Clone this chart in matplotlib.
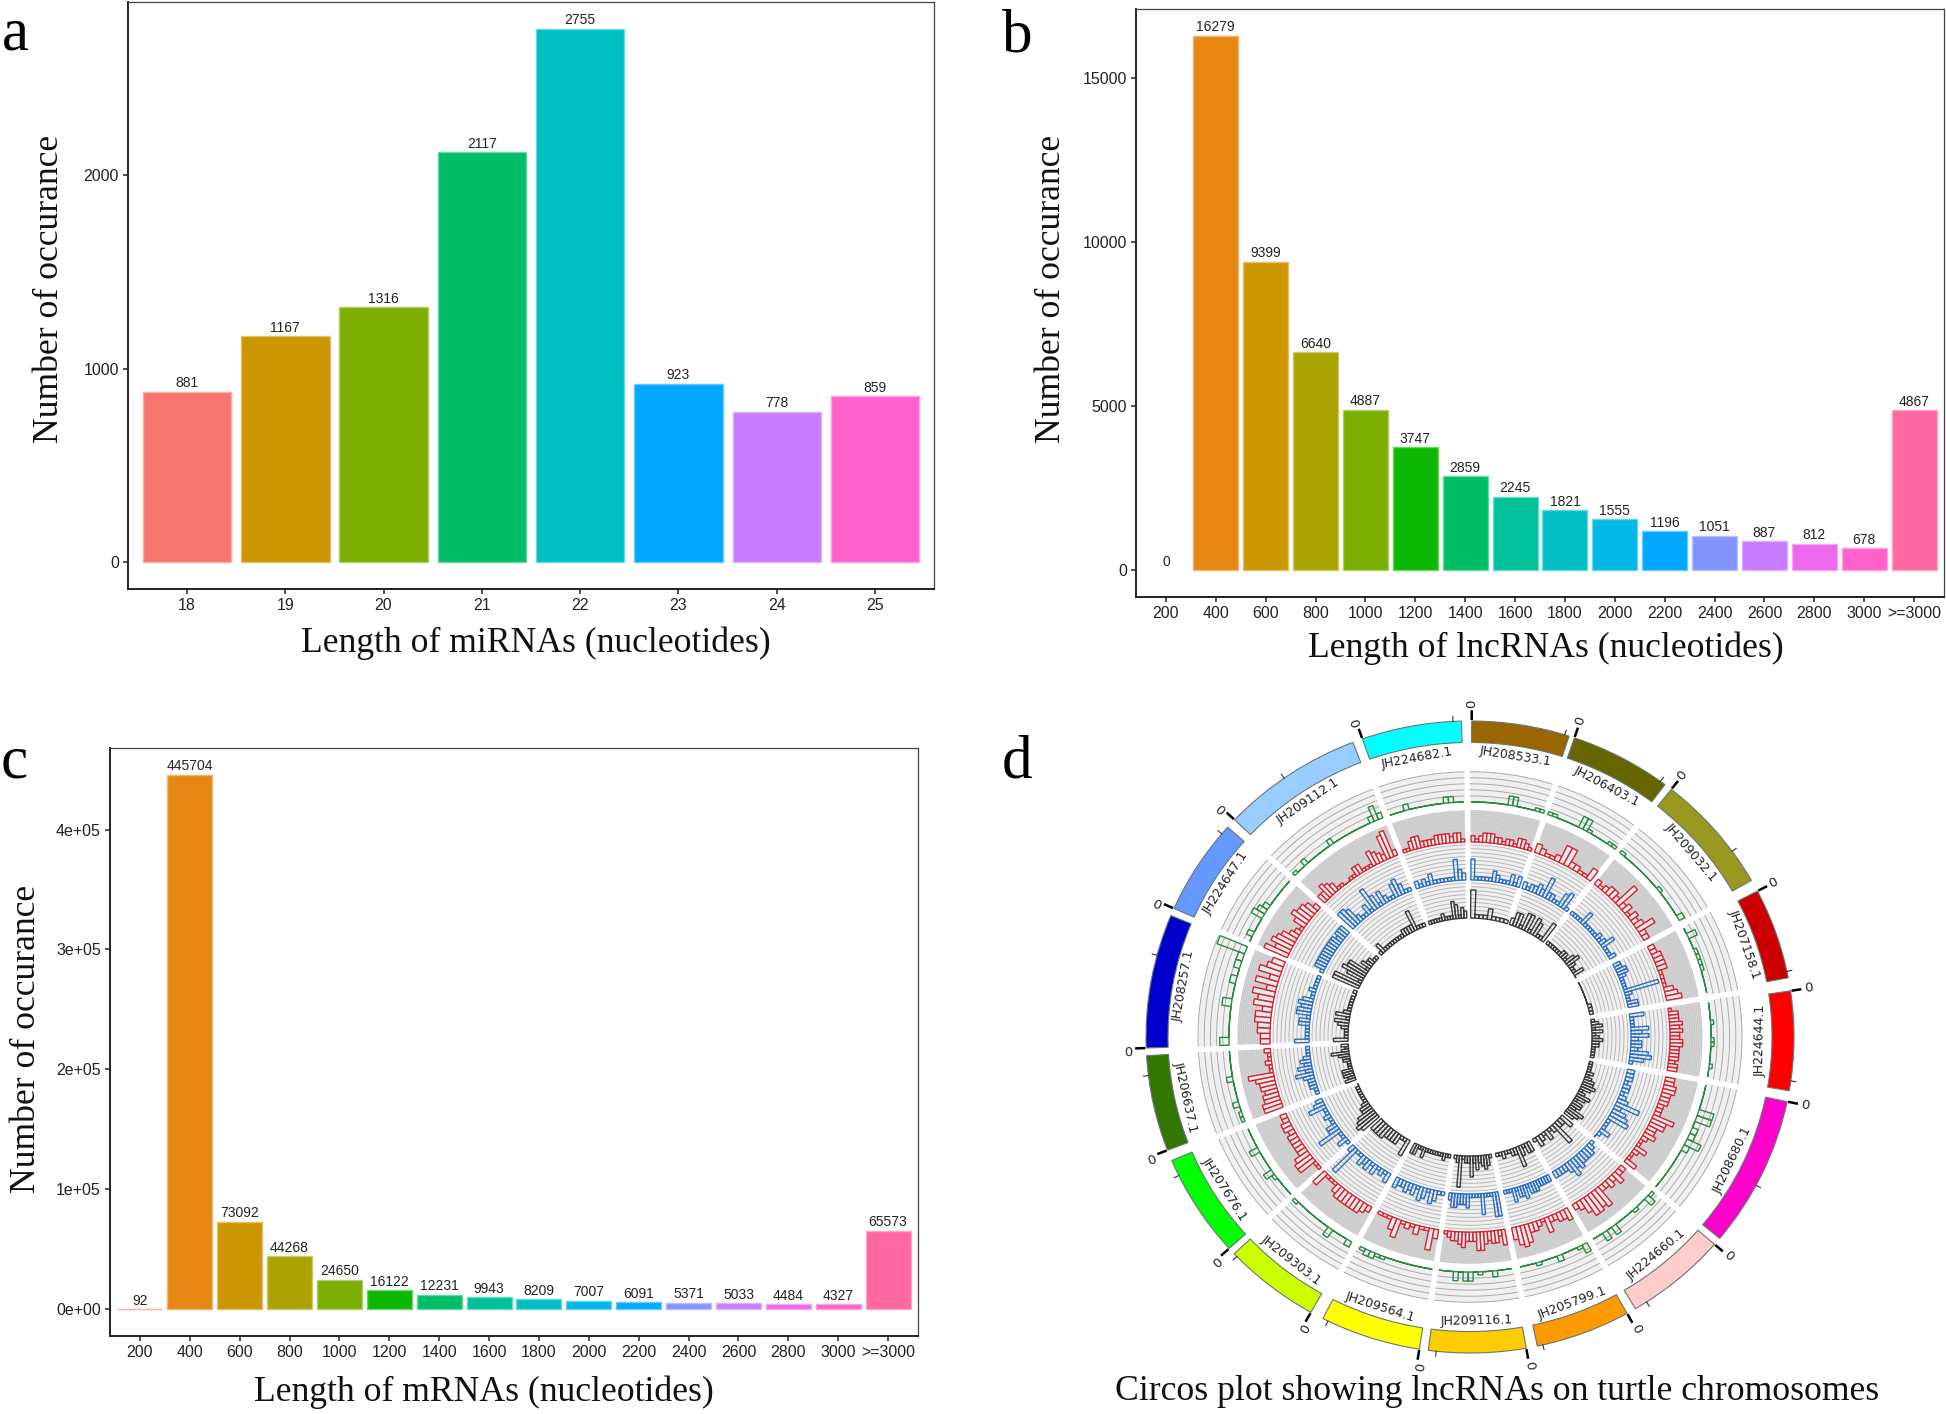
# -*- coding: utf-8 -*-
"""Length distributions of miRNA / lncRNA / mRNA plus circos panel."""
import numpy as np
import matplotlib
matplotlib.use("Agg")
import matplotlib.pyplot as plt
from matplotlib.colors import to_rgb

W, H = 1946, 1414

# ---- bar panels ----
MIRNA_CATS = ["18", "19", "20", "21", "22", "23", "24", "25"]
MIRNA_VALS = [881, 1167, 1316, 2117, 2755, 923, 778, 859]
MIRNA_COLS = ["#F8766D", "#CD9600", "#7CAE00", "#00BE67", "#00BFC4", "#00A9FF", "#C77CFF", "#FF61CC"]

LEN_CATS = ["200", "400", "600", "800", "1000", "1200", "1400", "1600", "1800", "2000",
            "2200", "2400", "2600", "2800", "3000", ">=3000"]
LNC_VALS = [0, 16279, 9399, 6640, 4887, 3747, 2859, 2245, 1821, 1555, 1196, 1051, 887, 812, 678, 4867]
MRNA_VALS = [92, 445704, 73092, 44268, 24650, 16122, 12231, 9943, 8209, 7007, 6091, 5371, 5033,
             4484, 4327, 65573]
LEN_COLS = ["#F8766D", "#E68613", "#CD9600", "#ABA300", "#7CAE00", "#0CB702", "#00BE67", "#00C19A",
            "#00BFC4", "#00B8E7", "#00A9FF", "#8494FF", "#C77CFF", "#ED68ED", "#FF61CC", "#FF68A1"]

MIRNA_TICKS = [0, 1000, 2000]
MIRNA_TICKLABELS = ["0", "1000", "2000"]
LNC_TICKS = [0, 5000, 10000, 15000]
LNC_TICKLABELS = ["0", "5000", "10000", "15000"]
MRNA_TICKS = [0, 100000, 200000, 300000, 400000]
MRNA_TICKLABELS = ["0e+00", "1e+05", "2e+05", "3e+05", "4e+05"]

# ---- circos panel, clockwise from the top; angles in degrees ----
SECTORS = ["JH208533.1", "JH206403.1", "JH209032.1", "JH207158.1", "JH224644.1", "JH208680.1",
           "JH224660.1", "JH205799.1", "JH209116.1", "JH209564.1", "JH209303.1", "JH207676.1",
           "JH206637.1", "JH208257.1", "JH224647.1", "JH209112.1", "JH224682.1"]
SECTOR_COLS = ["#996600", "#666600", "#999922", "#CC0000", "#FF0000", "#FF00CC", "#FFCCCC", "#FF9900",
               "#FFCC00", "#FFFF00", "#CCFF00", "#00FF00", "#337700", "#0000CC", "#6699FF", "#99CCFF",
               "#00FFFF"]
SECTOR_START = [0.3, 18.8, 38.4, 62.5, 81.6, 101.8, 131, 151, 170, 189, 209.4, 228, 249, 268, 294, 313.4, 340.6]
SECTOR_END = [17.8, 37, 60.3, 79.2, 99.8, 129.6, 149.3, 168, 187.4, 207, 226.7, 247, 266.6, 292.6, 311.6, 338.8, 358.5]
MINOR_TICKS = [17, 36, 54, 78, 98, 118, 147, 167, 186, 206, 226, 244, 263, 285, 310, 325, 357]

# histogram heights, 0-10 = share of the track height, one list per sector
RED = [[2, 1, 2, 3, 3, 3, 2, 2, 1, 2, 2, 1, 3, 3, 2, 1],
       [3, 2, 1, 1, 2, 6, 6, 2, 2, 1, 1, 4],
       [2, 1, 2, 3, 3, 2, 8, 2, 3, 1, 3, 2, 3, 6, 2, 2],
       [2, 2, 3, 3, 3, 3, 1, 1, 1, 1, 3, 4, 5],
       [1, 3, 3, 3, 4, 3, 4, 3, 3, 4, 4, 3, 3, 3, 3, 2, 3, 3],
       [3, 3, 4, 4, 3, 3, 3, 2, 2, 2, 7, 5, 5, 3, 3, 4, 2, 1, 1, 4, 2, 1, 1, 4],
       [2, 2, 4, 2, 3, 2, 2, 7, 6, 7, 7, 5, 3, 2],
       [4, 3, 3, 2, 2, 5, 1, 2, 3, 3, 6, 7, 6, 4],
       [5, 2, 4, 4, 3, 4, 6, 6, 3, 3, 3, 5, 4, 3, 3, 2, 1],
       [3, 7, 1, 1, 3, 1, 2, 1, 6, 4, 1, 1, 1],
       [2, 3, 4, 4, 4, 4, 4, 4, 3, 1, 1, 1, 5],
       [1, 1, 6, 6, 5, 3, 3, 3, 3, 3, 2, 3, 3, 2, 2],
       [6, 6, 5, 5, 4, 5, 5, 6, 8, 1, 1, 2, 1, 1, 2],
       [3, 3, 4, 4, 5, 5, 3, 6, 5, 7, 3, 7, 3, 7, 5, 4],
       [8, 5, 7, 6, 5, 3, 2, 1, 4, 6, 5, 5, 4, 2],
       [3, 3, 5, 4, 3, 1, 1, 0, 0, 1, 1, 3, 3, 1, 1, 1, 5, 4, 3, 2, 8, 9, 2],
       [1, 1, 3, 4, 4, 2, 2, 2, 2, 3, 3, 3, 3, 2, 3, 3, 1]]
BLUE = [[6, 1, 1, 1, 1, 1, 3, 2, 1, 1, 1, 3, 1, 3],
        [2, 1, 2, 2, 3, 2, 6, 2, 2, 1, 1, 4, 5, 1],
        [1, 1, 1, 1, 4, 1, 1, 1, 1, 1, 2, 1, 2, 4, 1, 1, 1, 2],
        [2, 2, 3, 3, 2, 1, 1, 1, 1, 10, 2, 1, 1, 3, 3],
        [4, 1, 1, 1, 5, 3, 5, 2, 3, 3, 2, 5, 6, 4, 1],
        [2, 2, 2, 1, 2, 2, 1, 2, 3, 7, 2, 4, 5, 6, 1, 1, 1, 3, 1, 0],
        [1, 2, 3, 3, 3, 3, 4, 3, 5, 3, 2, 2, 2, 2],
        [2, 2, 2, 2, 2, 3, 3, 3, 1, 4, 3, 3, 1, 4, 1, 1, 1],
        [7, 7, 1, 1, 1, 6, 1, 1, 1, 1, 4, 3, 3, 3, 4, 4, 2],
        [1, 1, 3, 4, 1, 3, 4, 1, 3, 2, 3, 2, 2, 3],
        [3, 1, 2, 1, 3, 1, 3, 2, 3, 1, 1, 9, 2],
        [1, 3, 1, 1, 7, 3, 3, 1, 1, 2, 1, 1, 5, 3, 2],
        [1, 1, 2, 2, 2, 3, 5, 2, 4, 2, 3, 2, 1, 1, 1],
        [4, 1, 1, 1, 1, 3, 3, 1, 4, 4, 3, 4, 3, 1, 1, 2, 1, 1, 1, 1],
        [1, 3, 3, 3, 3, 3, 3, 3, 3, 3, 3, 2, 3, 3, 3],
        [6, 6, 5, 2, 1, 1, 3, 1, 7, 4, 1, 4, 2, 1, 1, 4, 5, 3, 1, 1],
        [2, 1, 2, 1, 3, 1, 1, 1, 1, 1, 1, 6, 3, 2]]
BLACK = [[8, 1, 1, 1, 3, 1, 1, 1, 1],
         [2, 4, 4, 1, 5, 5, 1, 5, 4, 1, 1, 6],
         [1, 1, 1, 1, 1, 1, 2, 2, 1, 3, 4, 2, 1, 1, 3, 0],
         [0, 0, 0, 0, 0, 0, 0, 1, 1, 1],
         [1, 2, 3, 1, 3, 1, 2, 3, 2, 2, 1, 1, 1, 1],
         [1, 1, 1, 1, 2, 1, 2, 3, 3, 4, 3, 1, 2, 4, 3, 1, 3, 3, 2, 5, 4, 3],
         [4, 2, 2, 7, 2, 1, 3, 1, 2, 3, 1],
         [3, 3, 1, 3, 6, 2, 2, 1, 1, 2, 1, 1],
         [1, 3, 4, 3, 2, 4, 2, 6, 2, 2, 1, 9, 2, 1],
         [1, 1, 2, 1, 1, 1, 1, 1, 1, 1, 3, 1, 1, 3, 3],
         [5, 1, 1, 3, 3, 3, 3, 4, 4, 4, 4],
         [6, 7, 6, 5, 3, 3, 2, 1, 1, 1, 1, 1, 1, 0],
         [3, 2, 3, 3, 3, 1, 1, 1, 2, 2, 3, 5, 2, 1, 2],
         [4, 1, 1, 1, 2, 3, 4, 1, 4, 2, 1, 1, 1, 1, 1, 0, 1],
         [8, 8, 1, 5, 7, 6, 6, 1, 3, 2, 2, 1, 1],
         [1, 3, 1, 1, 1, 1, 1, 1, 1, 1, 2, 2, 2, 2, 6, 1, 1, 1],
         [1, 1, 1, 1, 1, 2, 1, 1, 1, 5, 4, 1, 3, 2]]
GREEN = [[0, 0, 0, 0, 0, 0, 0, 0, 3, 3, 0, 0, 0, 0, 1, 1],
         [1, 1, 0, 0, 0, 0, 0, 4, 4, 1, 0, 0, 0, 0, 1, 1],
         [1, 0, 0, 0, 0, 0, 0, 0, 0, 1, 0, 0, 0, 0, 0, 2],
         [0, 3, 0, 0, 1, 1, 1, 1, 0, 0, 0, 0],
         [0, 0, 0, 0, 1, 0, 0, 0, 1, 1, 0, 0, 0, 0, 1, 0, 0],
         [0, 0, 0, 0, 5, 5, 0, 2, 2, 5, 2, 0, 0, 0, 0, 0, 0, 0],
         [1, 3, 0, 0, 1, 0, 0, 0, 0, 3, 0, 3, 0, 0],
         [3, 1, 0, 0, 0, 2, 0, 0, 0, 1, 0, 0, 0],
         [0, 0, 0, 2, 0, 0, 1, 0, 3, 3, 0, 3, 0, 0, 0],
         [0, 0, 0, 0, 0, 0, 0, 0, 0, 1, 1, 2, 2, 1],
         [2, 0, 0, 0, 3, 0, 0, 0, 0, 0, 0, 0, 1],
         [0, 0, 0, 0, 1, 3, 0, 0, 0, 0, 3, 0, 0, 0, 0],
         [1, 1, 0, 2, 0, 0, 0, 0, 2, 0, 0, 0, 0, 0],
         [3, 0, 0, 0, 0, 3, 0, 0, 2, 0, 2, 2, 9.5],
         [0, 2, 0, 0, 0, 4, 3, 2, 0, 0, 0, 0, 0, 0],
         [1, 0, 0, 2, 0, 0, 0, 0, 0, 0, 2, 0, 0, 0, 0, 0, 0, 0, 0, 0, 2, 5, 2],
         [0, 0, 0, 2, 0, 0, 0, 0, 0, 0, 0, 2, 2, 0, 0]]

plt.rcParams["font.family"] = ["Liberation Sans", "DejaVu Sans"]
SERIF = "Liberation Serif"
BAR_FS, TICK_FS, LABEL_FS = 10, 11.5, 25.7

fig = plt.figure(figsize=(W / 100, H / 100), dpi=100)


def px_axes(left, top, right, bottom, **kw):
    return fig.add_axes([left / W, 1 - bottom / H, (right - left) / W, (bottom - top) / H], **kw)


def lighter(col, t=0.4):
    return tuple(c + (1 - c) * t for c in to_rgb(col))


def bar_panel(box, cats, vals, cols, ticks, ticklabels):
    ax = px_axes(*box)
    x = np.arange(len(cats))
    ax.bar(x, vals, width=0.9, color=cols, edgecolor=[lighter(c) for c in cols],
           linewidth=[1 if v else 0 for v in vals])
    for xi, v in zip(x, vals):
        ax.annotate(str(v), (xi, v), xytext=(0, 1), textcoords="offset points",
                    ha="center", va="bottom", fontsize=BAR_FS, color="#222222")
    top = max(vals)
    ax.set_xlim(-0.6, len(cats) - 0.4)
    ax.set_ylim(-0.05 * top, 1.05 * top)
    ax.set_xticks(x)
    ax.set_xticklabels(cats)
    ax.set_yticks(ticks)
    ax.set_yticklabels(ticklabels)
    ax.tick_params(labelsize=TICK_FS, length=3.5, width=1.1, pad=3, colors="#222222")
    for s in ["top", "right"]:
        ax.spines[s].set_linewidth(0.9)
        ax.spines[s].set_color("#444444")
    for s in ["left", "bottom"]:
        ax.spines[s].set_linewidth(1.4)
        ax.spines[s].set_color("#222222")
    return ax


bar_panel((128, 2, 934, 589), MIRNA_CATS, MIRNA_VALS, MIRNA_COLS, MIRNA_TICKS, MIRNA_TICKLABELS)
bar_panel((1136, 9, 1944, 597), LEN_CATS, LNC_VALS, LEN_COLS, LNC_TICKS, LNC_TICKLABELS)
bar_panel((110, 748, 918, 1336), LEN_CATS, MRNA_VALS, LEN_COLS, MRNA_TICKS, MRNA_TICKLABELS)


def fig_text(x, y, s, **kw):
    kw.setdefault("family", SERIF)
    kw.setdefault("fontsize", LABEL_FS)
    kw.setdefault("ha", "center")
    kw.setdefault("va", "center")
    kw.setdefault("color", "#111111")
    fig.text(x / W, 1 - y / H, s, **kw)


fig_text(536, 643, "Length of miRNAs (nucleotides)")
fig_text(1546, 648, "Length of lncRNAs (nucleotides)")
fig_text(484, 1392, "Length of mRNAs (nucleotides)")
fig_text(1497, 1391, "Circos plot showing lncRNAs on turtle chromosomes")
fig_text(50, 289, "Number of occurance", rotation=90)
fig_text(1051, 289, "Number of occurance", rotation=90)
fig_text(27, 1039, "Number of occurance", rotation=90)
for lx, ly, letter in [(15, 50, "a"), (1017, 52, "b"), (14, 777, "c"), (1017, 778, "d")]:
    fig_text(lx, ly, letter, fontsize=44, va="baseline", color="black")

# ---- circos: polar axes stretched a little, the original ring is not quite round ----
CX, CY, RMAX, SQUASH = 1470, 1037, 350, 316 / 324
ax = px_axes(CX - RMAX, CY - RMAX * SQUASH, CX + RMAX, CY + RMAX * SQUASH, projection="polar")
ax.set_theta_zero_location("N")
ax.set_theta_direction(-1)
ax.set_rlim(0, RMAX)
ax.set_aspect("auto")
ax.axis("off")
ax.patch.set_alpha(0)

ALL_ROUND = np.linspace(0, 2 * np.pi, 720)
# base radius, top radius, background, grid colour, grid lines, outline, fill
TRACKS = [(241, 272, "#F0F0F0", "#ABABAB", 5, "#2A8A45", "none", GREEN),
          (200, 232, "#D8D8D8", "#C8C8C8", 18, "#DD2030", "#DCEBEB", RED),
          (161, 197, "#F0F0F0", "#B8B8B8", 9, "#2B70C4", "none", BLUE),
          (122, 158, "#F0F0F0", "#B8B8B8", 9, "#3A3A3A", "none", BLACK)]

start = np.radians(SECTOR_START)
end = np.radians(SECTOR_END)
for base, top, bg, gridc, ngrid, line, fill, values in TRACKS:
    ax.bar(0, top - base, width=2 * np.pi, bottom=base, color=bg, linewidth=0, zorder=1)
    for r in np.linspace(base, top, ngrid + 1)[1:]:
        ax.plot(ALL_ROUND, np.full_like(ALL_ROUND, r), color=gridc, lw=0.7, zorder=2)

# white spokes split the tracks into sectors
for e, s in zip(end, np.roll(start, -1)):
    mid = (e + (s if s > e else s + 2 * np.pi)) / 2
    ax.plot([mid, mid], [118, 276], color="white", lw=4, zorder=3, solid_capstyle="butt")

for base, top, bg, gridc, ngrid, line, fill, values in TRACKS:
    scale = (top - base) / 10
    for s, e, vals in zip(start, end, values):
        width = (e - s) / len(vals)
        centers = s + width * (np.arange(len(vals)) + 0.5)
        ax.bar(centers, np.array(vals) * scale, width=width, bottom=base, facecolor=fill,
               edgecolor=line, linewidth=1.0, zorder=4)

ax.bar((start + end) / 2, 22, width=end - start, bottom=302, color=SECTOR_COLS,
       edgecolor="#667777", linewidth=0.8, zorder=5)
for t in np.radians(MINOR_TICKS):
    ax.plot([t, t], [324, 329], color="#333333", lw=0.8, zorder=5)

for name, s, e in zip(SECTORS, SECTOR_START, SECTOR_END):
    mid = (s + e) / 2
    # labels follow the ring and stay readable on the lower half
    rot = 180 - mid if 90 < mid < 270 else -mid
    ax.text(np.radians(mid), 291, name, rotation=rot, rotation_mode="anchor", ha="center", va="center",
            family="DejaVu Sans", fontsize=9, color="#222222", zorder=6)
    ax.plot(np.radians([s, s]), [325, 335], color="black", lw=1.8, zorder=6, solid_capstyle="butt")
    ax.text(np.radians(s), 342, "0", rotation=90 - s, rotation_mode="anchor", ha="center", va="center",
            family="DejaVu Sans", fontsize=9.5, color="#222222", zorder=6)

fig.savefig("out.png", dpi=100)
